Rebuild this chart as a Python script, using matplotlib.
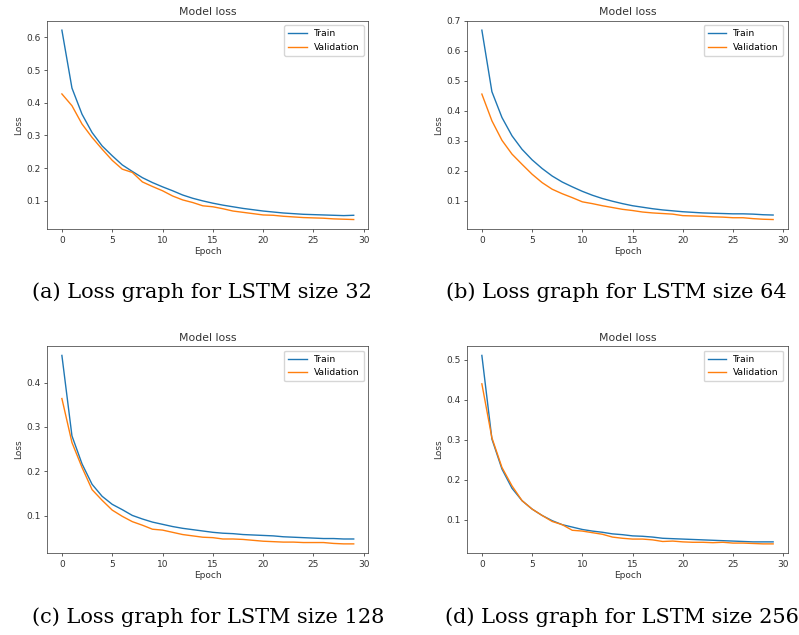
import numpy as np
import matplotlib
matplotlib.use('Agg')
import matplotlib.pyplot as plt

epochs = np.arange(30)

train_32 = [0.622, 0.445, 0.365, 0.309, 0.268, 0.238, 0.210, 0.190, 0.171, 0.156,
            0.143, 0.131, 0.118, 0.108, 0.100, 0.093, 0.087, 0.082, 0.077, 0.073,
            0.069, 0.066, 0.063, 0.061, 0.059, 0.058, 0.057, 0.056, 0.055, 0.056]
val_32 = [0.427, 0.391, 0.335, 0.294, 0.258, 0.224, 0.197, 0.187, 0.158, 0.144,
          0.131, 0.115, 0.103, 0.095, 0.085, 0.082, 0.076, 0.069, 0.065, 0.061,
          0.057, 0.056, 0.053, 0.051, 0.049, 0.048, 0.047, 0.045, 0.044, 0.043]

train_64 = [0.669, 0.464, 0.378, 0.317, 0.272, 0.237, 0.208, 0.183, 0.163, 0.147,
            0.132, 0.119, 0.108, 0.099, 0.091, 0.084, 0.079, 0.074, 0.070, 0.067,
            0.064, 0.062, 0.060, 0.059, 0.058, 0.057, 0.057, 0.056, 0.054, 0.053]
val_64 = [0.456, 0.367, 0.302, 0.256, 0.222, 0.189, 0.161, 0.139, 0.124, 0.111,
          0.097, 0.091, 0.084, 0.078, 0.072, 0.068, 0.063, 0.060, 0.058, 0.056,
          0.051, 0.050, 0.049, 0.047, 0.046, 0.044, 0.044, 0.041, 0.039, 0.038]

train_128 = [0.461, 0.280, 0.217, 0.171, 0.144, 0.126, 0.114, 0.101, 0.093, 0.086,
             0.081, 0.076, 0.072, 0.069, 0.066, 0.063, 0.061, 0.060, 0.058, 0.057,
             0.056, 0.055, 0.053, 0.052, 0.051, 0.050, 0.049, 0.049, 0.048, 0.048]
val_128 = [0.364, 0.265, 0.209, 0.159, 0.135, 0.113, 0.099, 0.087, 0.079, 0.070,
           0.068, 0.063, 0.058, 0.055, 0.052, 0.051, 0.048, 0.048, 0.047, 0.045,
           0.043, 0.042, 0.041, 0.041, 0.040, 0.040, 0.040, 0.038, 0.037, 0.037]

train_256 = [0.511, 0.302, 0.227, 0.179, 0.148, 0.127, 0.111, 0.098, 0.088, 0.082,
             0.076, 0.072, 0.069, 0.065, 0.063, 0.060, 0.059, 0.057, 0.054, 0.053,
             0.052, 0.051, 0.050, 0.049, 0.048, 0.047, 0.046, 0.045, 0.045, 0.045]
val_256 = [0.440, 0.305, 0.231, 0.185, 0.148, 0.127, 0.111, 0.096, 0.088, 0.074,
           0.072, 0.068, 0.064, 0.057, 0.054, 0.052, 0.052, 0.050, 0.046, 0.047,
           0.045, 0.044, 0.044, 0.043, 0.044, 0.042, 0.042, 0.041, 0.040, 0.040]

captions = ['(a) Loss graph for LSTM size 32', '(b) Loss graph for LSTM size 64',
            '(c) Loss graph for LSTM size 128', '(d) Loss graph for LSTM size 256']
series = [(train_32, val_32), (train_64, val_64),
          (train_128, val_128), (train_256, val_256)]

W, H = 799, 635
# axes boxes in pixels: left, top, right, bottom
boxes = [(47.3, 20.7, 368.3, 229.0), (467.3, 20.7, 787.7, 229.0),
         (47.3, 346.0, 368.3, 553.3), (467.3, 346.0, 787.7, 553.3)]
cap_pos = [(31.7, 292), (446, 292), (31.7, 617), (445, 617)]

txt = '#333333'
plt.rcParams['font.size'] = 6.5
plt.rcParams['axes.linewidth'] = 0.55
plt.rcParams['xtick.major.size'] = 2.3
plt.rcParams['ytick.major.size'] = 2.3
plt.rcParams['xtick.major.width'] = 0.55
plt.rcParams['ytick.major.width'] = 0.55
plt.rcParams['xtick.major.pad'] = 2.5
plt.rcParams['ytick.major.pad'] = 2.5

fig = plt.figure(figsize=(W / 100, H / 100), dpi=100)

for (l, t, r, b), (tr, va), cap, (cx, cy) in zip(boxes, series, captions, cap_pos):
    ax = fig.add_axes([l / W, 1 - b / H, (r - l) / W, (b - t) / H])
    ax.plot(epochs, tr, color='#1f77b4', lw=1.0, label='Train')
    ax.plot(epochs, va, color='#ff7f0e', lw=1.0, label='Validation')
    ax.set_title('Model loss', fontsize=7.8, color=txt, pad=3.9)
    ax.set_xlabel('Epoch', color=txt, labelpad=1.5)
    ax.set_ylabel('Loss', color=txt, labelpad=2.5)
    ax.set_xticks([0, 5, 10, 15, 20, 25, 30])
    ax.tick_params(colors=txt, labelcolor=txt)
    for sp in ax.spines.values():
        sp.set_color('#444444')
    ax.legend(loc='upper right', fontsize=6.6, handlelength=2.0,
              borderpad=0.45, labelspacing=0.5)
    fig.text(cx / W, 1 - cy / H, cap, family='DejaVu Serif', fontsize=15,
             ha='left', va='center', color='black')

fig.savefig('out.png', dpi=100)
